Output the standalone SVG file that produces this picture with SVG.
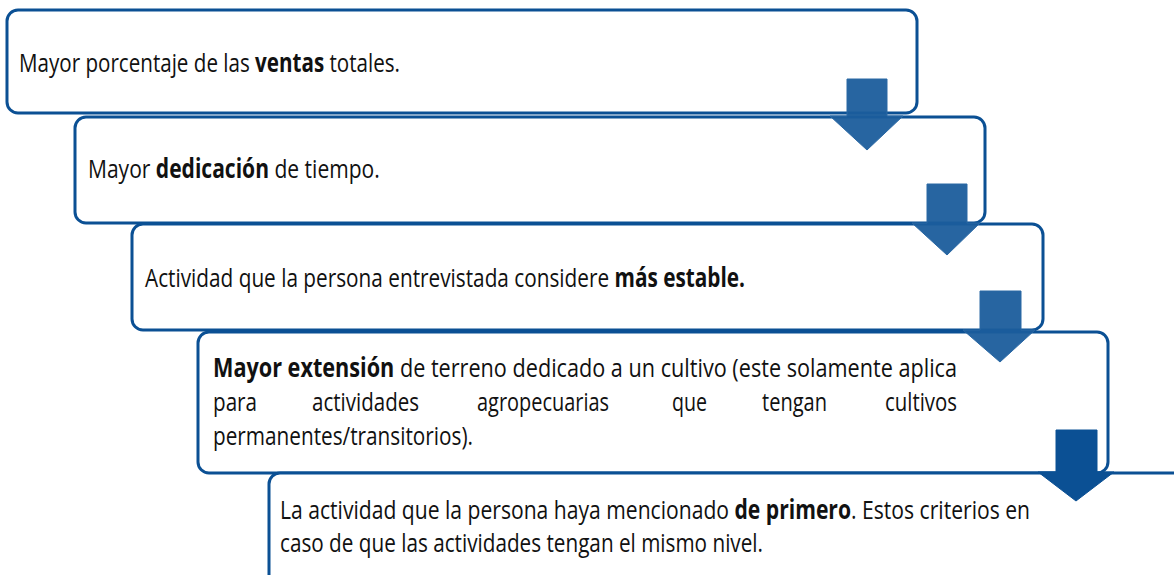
<svg xmlns="http://www.w3.org/2000/svg" width="1174" height="575" viewBox="0 0 1174 575">
<style>
.box{fill:#ffffff;stroke:#0b5094;stroke-width:3}
.t{font-family:"Open Sans","Liberation Sans",sans-serif;font-size:26px;fill:#111111}
.b{font-weight:bold}
.arr{fill:#1b5d9c;stroke:#2a68a4;stroke-width:1;fill-opacity:0.95}
.arr4{fill:#0b5094;stroke:#0b5094;stroke-width:1}
</style>
<rect width="1174" height="575" fill="#ffffff"/>
<g id="node1">
<rect class="box" x="7" y="10" width="910" height="103" rx="11"/>
<text class="t" transform="translate(19,72) scale(0.75,1)" textLength="508" lengthAdjust="spacingAndGlyphs">Mayor porcentaje de las <tspan class="b">ventas</tspan> totales.</text>
</g>
<g id="node2">
<rect class="box" x="75" y="117" width="910" height="106" rx="11"/>
<text class="t" transform="translate(88,178) scale(0.75,1)" textLength="389" lengthAdjust="spacingAndGlyphs">Mayor <tspan class="b">dedicación</tspan> de tiempo.</text>
</g>
<g id="node3">
<rect class="box" x="132" y="224" width="911" height="106" rx="11"/>
<text class="t" transform="translate(145,287) scale(0.75,1)" textLength="800" lengthAdjust="spacingAndGlyphs">Actividad que la persona entrevistada considere <tspan class="b">más estable.</tspan></text>
</g>
<g id="node4">
<rect class="box" x="198" y="332" width="910" height="141" rx="11"/>
<text class="t" transform="translate(213,377) scale(0.75,1)" textLength="992" lengthAdjust="spacingAndGlyphs"><tspan class="b">Mayor extensión</tspan> de terreno dedicado a un cultivo (este solamente aplica</text>
<text class="t" transform="translate(213,411) scale(0.75,1)" textLength="58.7" lengthAdjust="spacingAndGlyphs">para</text>
<text class="t" transform="translate(312,411) scale(0.75,1)" textLength="142.7" lengthAdjust="spacingAndGlyphs">actividades</text>
<text class="t" transform="translate(477,411) scale(0.75,1)" textLength="176" lengthAdjust="spacingAndGlyphs">agropecuarias</text>
<text class="t" transform="translate(672,411) scale(0.75,1)" textLength="46.7" lengthAdjust="spacingAndGlyphs">que</text>
<text class="t" transform="translate(762,411) scale(0.75,1)" textLength="86.7" lengthAdjust="spacingAndGlyphs">tengan</text>
<text class="t" transform="translate(885,411) scale(0.75,1)" textLength="96" lengthAdjust="spacingAndGlyphs">cultivos</text>
<text class="t" transform="translate(213,445) scale(0.75,1)" textLength="346.7" lengthAdjust="spacingAndGlyphs">permanentes/transitorios).</text>
</g>
<g id="node5">
<rect class="box" x="269" y="473" width="960" height="150" rx="11"/>
<text class="t" transform="translate(280,519) scale(0.75,1)" textLength="1000" lengthAdjust="spacingAndGlyphs">La actividad que la persona haya mencionado <tspan class="b">de primero</tspan>. Estos criterios en</text>
<text class="t" transform="translate(280,552) scale(0.75,1)" textLength="644" lengthAdjust="spacingAndGlyphs">caso de que las actividades tengan el mismo nivel.</text>
</g>
<g id="connectors">
<polygon class="arr" points="847,79 887,79 887,116 903,116 867,150 830,116 847,116"/>
<polygon class="arr" points="927,184 967,184 967,223 980,223 947,255 912,223 927,223"/>
<polygon class="arr" points="980,291 1021,291 1021,330 1035,330 1000,362 963,330 980,330"/>
<polygon class="arr4" points="1056,430 1097,430 1097,472 1114,472 1076,501 1038,472 1056,472"/>
</g>
</svg>
